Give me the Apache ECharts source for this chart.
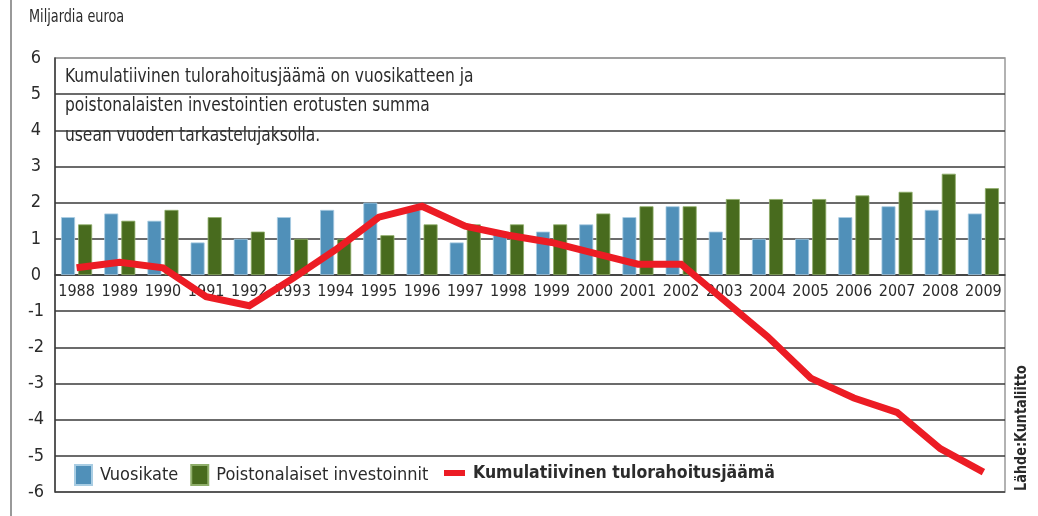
<!DOCTYPE html>
<html>
<head>
<meta charset="utf-8">
<script src="https://cdn.jsdelivr.net/npm/echarts@6/dist/echarts.min.js"></script>
<style>
  html, body { margin: 0; padding: 0; background: #fff; }
  #main { width: 1038px; height: 516px; }
</style>
</head>
<body>
<div id="main"></div>
<script>
// data (billion euros)
var years = ['1988','1989','1990','1991','1992','1993','1994','1995','1996','1997','1998',
             '1999','2000','2001','2002','2003','2004','2005','2006','2007','2008','2009'];
var vuosikate = [1.6,1.7,1.5,0.9,1.0,1.6,1.8,2.0,1.8,0.9,1.2,1.2,1.4,1.6,1.9,1.2,1.0,1.0,1.6,1.9,1.8,1.7];
var investoinnit = [1.4,1.5,1.8,1.6,1.2,1.0,1.0,1.1,1.4,1.4,1.4,1.4,1.7,1.9,1.9,2.1,2.1,2.1,2.2,2.3,2.8,2.4];
var kumulatiivinen = [0.2,0.35,0.2,-0.6,-0.85,-0.1,0.7,1.6,1.9,1.35,1.1,0.9,0.6,0.3,0.3,-0.7,-1.7,-2.85,-3.4,-3.8,-4.8,-5.45];

var font = '"Liberation Sans Narrow", "DejaVu Sans Condensed", "Roboto", sans-serif';
var txt = '#2b2b2b';

var myChart = echarts.init(document.getElementById('main'));

// gridline colours, bottom (-6) to top (6); the top one is lighter
var splitColors = [];
for (var i = 0; i < 12; i++) splitColors.push('#3a3a3a');
splitColors.push('#999');

var option = {
  animation: false,
  grid: { left: 55, right: 33, top: 58, bottom: 24, show: true, borderColor: '#999', borderWidth: 1.5 },
  legend: [
    {
      left: 74, top: 464, padding: 0,
      itemWidth: 17, itemHeight: 20, itemGap: 12,
      icon: 'rect',
      data: ['Vuosikate', 'Poistonalaiset investoinnit'],
      textStyle: { fontFamily: font, fontSize: 18, color: txt, padding: [0, 0, 0, 3] }
    },
    {
      left: 444, top: 464, padding: 0,
      itemWidth: 21, itemHeight: 6,
      icon: 'rect',
      data: ['Kumulatiivinen tulorahoitusjäämä'],
      textStyle: { fontFamily: font, fontSize: 17.5, fontWeight: 'bold', color: txt, padding: [0, 0, 0, 3] }
    }
  ],
  graphic: [
    { type: 'line', shape: { x1: 11, y1: 0, x2: 11, y2: 516 }, style: { stroke: '#999', lineWidth: 2 } },
    {
      type: 'text', x: 29, y: 9, scaleX: 0.84,
      style: { text: 'Miljardia euroa', font: '17px ' + font, fill: txt, verticalAlign: 'top' }
    },
    {
      type: 'text', x: 65, y: 62, scaleX: 0.86,
      style: {
        text: 'Kumulatiivinen tulorahoitusjäämä on vuosikatteen ja\npoistonalaisten investointien erotusten summa\nusean vuoden tarkastelujaksolla.',
        font: '20px ' + font, fill: txt, lineHeight: 29.5, verticalAlign: 'top'
      }
    },
    {
      type: 'text', x: 1022, y: 428, rotation: Math.PI / 2, scaleX: 0.89,
      style: { text: 'Lähde:Kuntaliitto', font: 'bold 16px ' + font, fill: txt, align: 'center', verticalAlign: 'middle' }
    }
  ],
  xAxis: {
    type: 'category',
    data: years,
    offset: -217,
    axisLine: { onZero: false, lineStyle: { color: '#3a3a3a', width: 1.5 } },
    axisTick: { show: false },
    axisLabel: { fontFamily: font, fontSize: 16, color: txt, margin: 9, interval: 0 },
    z: 1
  },
  yAxis: {
    type: 'value',
    min: -6, max: 6, interval: 1,
    axisLine: { show: true, lineStyle: { color: '#3a3a3a', width: 1.5 } },
    axisTick: { show: false },
    axisLabel: { fontFamily: font, fontSize: 18, color: txt, margin: 19, align: 'center' },
    splitLine: { lineStyle: { color: splitColors, width: 1.5 } }
  },
  series: [
    {
      name: 'Vuosikate', type: 'bar', data: vuosikate,
      barWidth: 14, barGap: '22%',
      itemStyle: { color: '#5090b9', borderColor: '#a9cde3', borderWidth: 0.8 }
    },
    {
      name: 'Poistonalaiset investoinnit', type: 'bar', data: investoinnit,
      barWidth: 14,
      itemStyle: { color: '#486b1e', borderColor: '#8fae6a', borderWidth: 0.8 }
    },
    {
      name: 'Kumulatiivinen tulorahoitusjäämä', type: 'line', data: kumulatiivinen,
      symbol: 'none', z: 5,
      lineStyle: { color: '#ec1c24', width: 7, join: 'miter' },
      itemStyle: { color: '#ec1c24' }
    }
  ]
};

myChart.setOption(option);
</script>
</body>
</html>
